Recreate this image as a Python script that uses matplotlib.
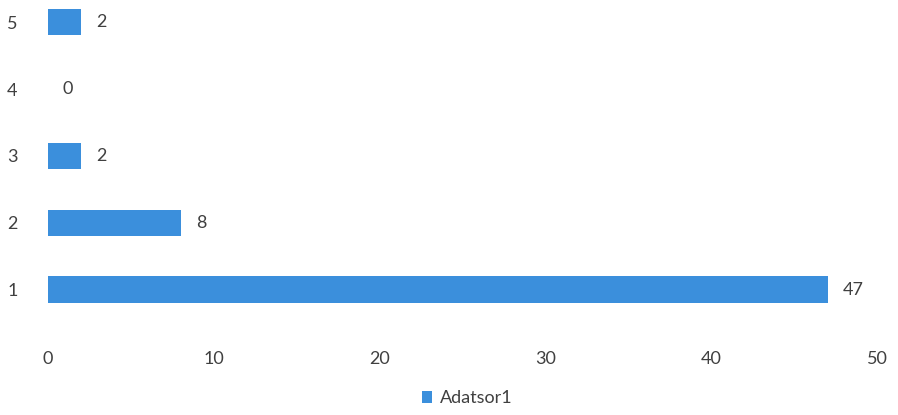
import matplotlib.pyplot as plt

# data
categories = ['1', '2', '3', '4', '5']
values = [47, 8, 2, 0, 2]
series_name = 'Adatsor1'

bar_color = '#3b8fdc'
text_color = '#404040'

plt.rcParams['font.family'] = ['Lato', 'DejaVu Sans']

fig = plt.figure(figsize=(8.98, 4.15), dpi=100)
ax = fig.add_axes([0.0535, 0.229, 0.9235, 0.771])

ypos = list(range(1, len(categories) + 1))
bars = ax.barh(ypos, values, height=0.4, color=bar_color, label=series_name)

# value labels
for y, v in zip(ypos, values):
    ax.text(v + 0.9, y, str(v), va='center', ha='left', fontsize=13, color=text_color)

ax.set_xlim(0, 50)
ax.set_ylim(0.55, 5.33)
ax.set_xticks([0, 10, 20, 30, 40, 50])
ax.set_yticks(ypos)
ax.set_yticklabels(categories)
ax.tick_params(axis='both', length=0, labelsize=13, colors=text_color)
ax.tick_params(axis='x', pad=22)
ax.tick_params(axis='y', pad=22)

for s in ax.spines.values():
    s.set_visible(False)

fig.legend(handles=[bars], labels=[series_name], loc='center', bbox_to_anchor=(0.52, 0.04),
           frameon=False, fontsize=13, handlelength=0.6, handleheight=0.6,
           handletextpad=0.4, labelcolor=text_color)

fig.savefig('out.png', dpi=100)
